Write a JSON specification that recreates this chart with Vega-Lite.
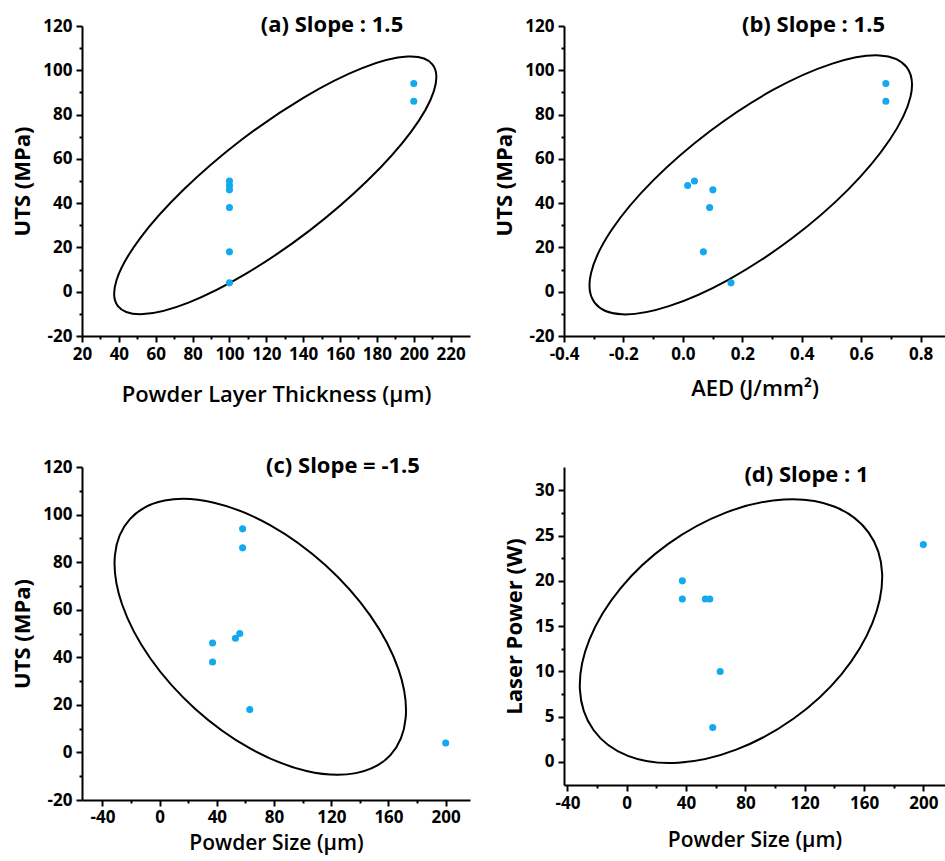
{
  "$schema": "https://vega.github.io/schema/vega-lite/v6.json",
  "padding": {"left": 11, "top": 14, "right": 0, "bottom": 12},
  "bounds": "flush",
  "columns": 2,
  "spacing": {"row": 131, "column": 94},
  "center": true,
  "config": {
    "view": {"stroke": null},
    "axis": {
      "labelFont": "Open Sans", "labelFontSize": 17, "labelFontWeight": "bold", "labelColor": "black",
      "titleFont": "Open Sans", "titleFontSize": 22, "titleFontWeight": "bold", "titleColor": "black",
      "domainColor": "black", "domainWidth": 2, "tickColor": "black", "tickWidth": 2, "tickSize": 6,
      "grid": false, "labelPadding": 4, "labelFlush": false, "labelOverlap": false, "labelBound": false,
      "labelExpr": "replace(datum.label, '\u2212', '-')"
    },
    "axisX": {"titleFontWeight": 600},
    "title": {"font": "Open Sans", "fontSize": 22, "fontWeight": "bold", "color": "black", "anchor": "middle", "frame": "group", "baseline": "middle", "offset": 0}
  },
  "datasets": {
    "a_pts": [
      {"x": 100, "y": 50}, {"x": 100, "y": 48}, {"x": 100, "y": 46}, {"x": 100, "y": 38},
      {"x": 100, "y": 18}, {"x": 100, "y": 4}, {"x": 200, "y": 94}, {"x": 200, "y": 86}
    ],
    "a_ell": [
      {"i": 0, "x": 210.2, "y": 102.6}, {"i": 1, "x": 210.9, "y": 90.6}, {"i": 2, "x": 198.5, "y": 72.2},
      {"i": 3, "x": 174.9, "y": 50.2}, {"i": 4, "x": 143.6, "y": 27.7}, {"i": 5, "x": 109.5, "y": 8.4},
      {"i": 6, "x": 77.8, "y": -4.9}, {"i": 7, "x": 53.2, "y": -10.1}, {"i": 8, "x": 39.5, "y": -6.5},
      {"i": 9, "x": 38.8, "y": 5.4}, {"i": 10, "x": 51.3, "y": 23.9}, {"i": 11, "x": 74.9, "y": 45.9},
      {"i": 12, "x": 106.2, "y": 68.4}, {"i": 13, "x": 140.3, "y": 87.7}, {"i": 14, "x": 172.0, "y": 101.0},
      {"i": 15, "x": 196.6, "y": 106.2}
    ],
    "b_pts": [
      {"x": 0.016, "y": 48}, {"x": 0.039, "y": 50}, {"x": 0.101, "y": 46}, {"x": 0.09, "y": 38},
      {"x": 0.069, "y": 18}, {"x": 0.162, "y": 4}, {"x": 0.683, "y": 94}, {"x": 0.683, "y": 86}
    ],
    "b_ell": [
      {"i": 0, "x": 0.753, "y": 101.4}, {"i": 1, "x": 0.766, "y": 88.1}, {"i": 2, "x": 0.696, "y": 68.6},
      {"i": 3, "x": 0.556, "y": 46.1}, {"i": 4, "x": 0.365, "y": 23.9}, {"i": 5, "x": 0.153, "y": 5.4},
      {"i": 6, "x": -0.047, "y": -6.5}, {"i": 7, "x": -0.205, "y": -10.2}, {"i": 8, "x": -0.297, "y": -4.9},
      {"i": 9, "x": -0.309, "y": 8.4}, {"i": 10, "x": -0.24, "y": 27.9}, {"i": 11, "x": -0.099, "y": 50.4},
      {"i": 12, "x": 0.092, "y": 72.6}, {"i": 13, "x": 0.303, "y": 91.1}, {"i": 14, "x": 0.503, "y": 103.0},
      {"i": 15, "x": 0.661, "y": 106.7}
    ],
    "c_pts": [
      {"x": 58, "y": 94}, {"x": 58, "y": 86}, {"x": 37, "y": 46}, {"x": 37, "y": 38},
      {"x": 53, "y": 48}, {"x": 56, "y": 50}, {"x": 63, "y": 18}, {"x": 200, "y": 4}
    ],
    "c_ell": [
      {"i": 0, "x": 161.5, "y": -1.0}, {"i": 1, "x": 137.2, "y": -8.7}, {"i": 2, "x": 102.7, "y": -7.8},
      {"i": 3, "x": 63.2, "y": 1.7}, {"i": 4, "x": 24.9, "y": 18.3}, {"i": 5, "x": -6.6, "y": 39.6},
      {"i": 6, "x": -26.3, "y": 62.3}, {"i": 7, "x": -31.3, "y": 82.8}, {"i": 8, "x": -20.8, "y": 98.1},
      {"i": 9, "x": 3.5, "y": 105.9}, {"i": 10, "x": 38.0, "y": 105.0}, {"i": 11, "x": 77.5, "y": 95.5},
      {"i": 12, "x": 115.8, "y": 78.8}, {"i": 13, "x": 147.3, "y": 57.5}, {"i": 14, "x": 167.0, "y": 34.9},
      {"i": 15, "x": 172.0, "y": 14.4}
    ],
    "d_pts": [
      {"x": 37.5, "y": 20}, {"x": 37.5, "y": 18}, {"x": 53, "y": 18}, {"x": 56, "y": 18},
      {"x": 63, "y": 10}, {"x": 58, "y": 3.8}, {"x": 200, "y": 24}
    ],
    "d_ell": [
      {"i": 0, "x": 163.0, "y": 25.35}, {"i": 1, "x": 172.2, "y": 20.84}, {"i": 2, "x": 165.7, "y": 15.35},
      {"i": 3, "x": 144.9, "y": 9.71}, {"i": 4, "x": 112.6, "y": 4.8}, {"i": 5, "x": 73.8, "y": 1.36},
      {"i": 6, "x": 34.7, "y": -0.09}, {"i": 7, "x": 0.8, "y": 0.67}, {"i": 8, "x": -22.4, "y": 3.53},
      {"i": 9, "x": -31.6, "y": 8.05}, {"i": 10, "x": -25.1, "y": 13.54}, {"i": 11, "x": -4.2, "y": 19.18},
      {"i": 12, "x": 28.0, "y": 24.08}, {"i": 13, "x": 66.8, "y": 27.53}, {"i": 14, "x": 106.0, "y": 28.98},
      {"i": 15, "x": 139.8, "y": 28.21}
    ]
  },
  "concat": [
    {
      "width": 388, "height": 310,
      "title": {"text": "(a) Slope : 1.5", "dx": 56, "dy": 24},
      "resolve": {"axis": {"x": "independent", "y": "independent"}},
      "layer": [
        {
          "data": {"name": "a_ell"},
          "mark": {"type": "line", "interpolate": "cardinal-closed", "color": "black", "strokeWidth": 2},
          "encoding": {
            "x": {"field": "x", "type": "quantitative", "scale": {"domain": [20, 230.5], "nice": false, "zero": false},
                  "axis": {"orient": "bottom", "values": [30, 50, 70, 90, 110, 130, 150, 170, 190, 210], "labels": false, "domain": false, "title": null, "tickSize": 3}},
            "y": {"field": "y", "type": "quantitative", "scale": {"domain": [-20, 120], "nice": false, "zero": false},
                  "axis": {"orient": "left", "values": [-10, 10, 30, 50, 70, 90, 110], "labels": false, "domain": false, "title": null, "tickSize": 3}},
            "order": {"field": "i", "type": "quantitative"}
          }
        },
        {
          "data": {"name": "a_pts"},
          "mark": {"type": "circle", "color": "#12A9EF", "size": 50, "opacity": 1},
          "encoding": {
            "x": {"field": "x", "type": "quantitative",
                  "axis": {"orient": "bottom", "values": [20, 40, 60, 80, 100, 120, 140, 160, 180, 200, 220], "title": "Powder Layer Thickness (µm)", "titlePadding": 22}},
            "y": {"field": "y", "type": "quantitative",
                  "axis": {"orient": "left", "values": [-20, 0, 20, 40, 60, 80, 100, 120], "title": "UTS (MPa)", "titlePadding": 8}}
          }
        }
      ]
    },
    {
      "width": 381, "height": 310,
      "title": {"text": "(b) Slope : 1.5", "dx": 59, "dy": 24},
      "resolve": {"axis": {"x": "independent", "y": "independent"}},
      "layer": [
        {
          "data": {"name": "b_ell"},
          "mark": {"type": "line", "interpolate": "cardinal-closed", "color": "black", "strokeWidth": 2},
          "encoding": {
            "x": {"field": "x", "type": "quantitative", "scale": {"domain": [-0.4, 0.882], "nice": false, "zero": false},
                  "axis": {"orient": "bottom", "values": [-0.3, -0.1, 0.1, 0.3, 0.5, 0.7], "labels": false, "domain": false, "title": null, "tickSize": 3}},
            "y": {"field": "y", "type": "quantitative", "scale": {"domain": [-20, 120], "nice": false, "zero": false},
                  "axis": {"orient": "left", "values": [-10, 10, 30, 50, 70, 90, 110], "labels": false, "domain": false, "title": null, "tickSize": 3}},
            "order": {"field": "i", "type": "quantitative"}
          }
        },
        {
          "data": {"name": "b_pts"},
          "mark": {"type": "circle", "color": "#12A9EF", "size": 50, "opacity": 1},
          "encoding": {
            "x": {"field": "x", "type": "quantitative",
                  "axis": {"orient": "bottom", "values": [-0.4, -0.2, 0, 0.2, 0.4, 0.6, 0.8], "format": ".1f", "title": "AED (J/mm²)", "titlePadding": 16}},
            "y": {"field": "y", "type": "quantitative",
                  "axis": {"orient": "left", "values": [-20, 0, 20, 40, 60, 80, 100, 120], "title": "UTS (MPa)", "titlePadding": 8}}
          }
        }
      ]
    },
    {
      "width": 388, "height": 333,
      "title": {"text": "(c) Slope = -1.5", "dx": 67, "dy": 24},
      "resolve": {"axis": {"x": "independent", "y": "independent"}},
      "layer": [
        {
          "data": {"name": "c_ell"},
          "mark": {"type": "line", "interpolate": "cardinal-closed", "color": "black", "strokeWidth": 2},
          "encoding": {
            "x": {"field": "x", "type": "quantitative", "scale": {"domain": [-54.3, 217], "nice": false, "zero": false},
                  "axis": {"orient": "bottom", "values": [-20, 20, 60, 100, 140, 180], "labels": false, "domain": false, "title": null, "tickSize": 3}},
            "y": {"field": "y", "type": "quantitative", "scale": {"domain": [-20, 120], "nice": false, "zero": false},
                  "axis": {"orient": "left", "values": [-10, 10, 30, 50, 70, 90, 110], "labels": false, "domain": false, "title": null, "tickSize": 3}},
            "order": {"field": "i", "type": "quantitative"}
          }
        },
        {
          "data": {"name": "c_pts"},
          "mark": {"type": "circle", "color": "#12A9EF", "size": 50, "opacity": 1},
          "encoding": {
            "x": {"field": "x", "type": "quantitative",
                  "axis": {"orient": "bottom", "values": [-40, 0, 40, 80, 120, 160, 200], "title": "Powder Size (µm)", "titlePadding": 7, "labelPadding": 3, "titleFontSize": 21}},
            "y": {"field": "y", "type": "quantitative",
                  "axis": {"orient": "left", "values": [-20, 0, 20, 40, 60, 80, 100, 120], "title": "UTS (MPa)", "titlePadding": 8}}
          }
        }
      ]
    },
    {
      "width": 381, "height": 318,
      "title": {"text": "(d) Slope : 1", "dx": 52, "dy": 24},
      "resolve": {"axis": {"x": "independent", "y": "independent"}},
      "layer": [
        {
          "data": {"name": "d_ell"},
          "mark": {"type": "line", "interpolate": "cardinal-closed", "color": "black", "strokeWidth": 2},
          "encoding": {
            "x": {"field": "x", "type": "quantitative", "scale": {"domain": [-42.3, 214.6], "nice": false, "zero": false},
                  "axis": {"orient": "bottom", "values": [-20, 20, 60, 100, 140, 180], "labels": false, "domain": false, "title": null, "tickSize": 3}},
            "y": {"field": "y", "type": "quantitative", "scale": {"domain": [-2.54, 32.57], "nice": false, "zero": false},
                  "axis": {"orient": "left", "values": [2.5, 7.5, 12.5, 17.5, 22.5, 27.5], "labels": false, "domain": false, "title": null, "tickSize": 3}},
            "order": {"field": "i", "type": "quantitative"}
          }
        },
        {
          "data": {"name": "d_pts"},
          "mark": {"type": "circle", "color": "#12A9EF", "size": 50, "opacity": 1},
          "encoding": {
            "x": {"field": "x", "type": "quantitative",
                  "axis": {"orient": "bottom", "values": [-40, 0, 40, 80, 120, 160, 200], "title": "Powder Size (µm)", "titlePadding": 18, "titleFontSize": 21}},
            "y": {"field": "y", "type": "quantitative",
                  "axis": {"orient": "left", "values": [0, 5, 10, 15, 20, 25, 30], "title": "Laser Power (W)", "titlePadding": 8}}
          }
        }
      ]
    }
  ]
}
